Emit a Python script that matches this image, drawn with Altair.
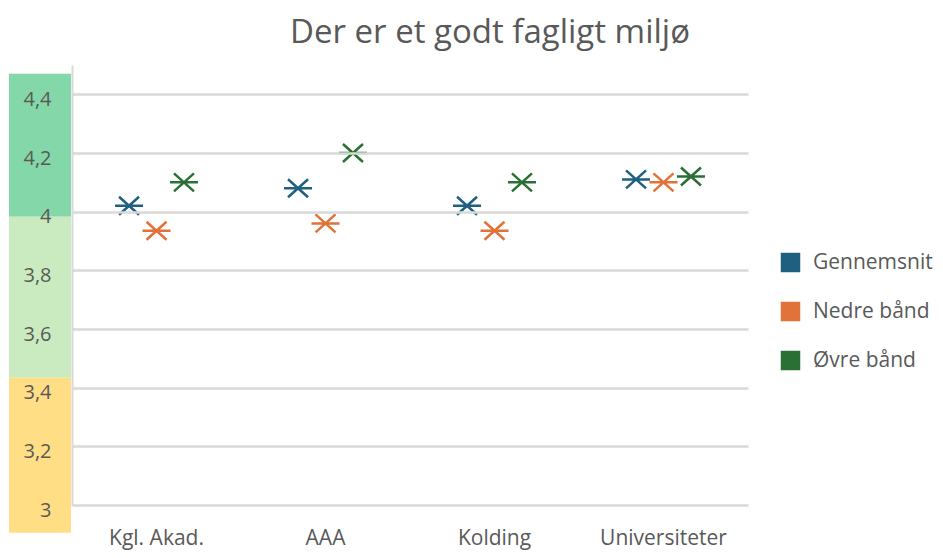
import altair as alt
import pandas as pd

categories = ["Kgl. Akad.", "AAA", "Kolding", "Universiteter"]
series = ["Gennemsnit", "Nedre bånd", "Øvre bånd"]
gennemsnit = [4.02, 4.08, 4.02, 4.11]
nedre = [3.935, 3.96, 3.935, 4.10]
oevre = [4.10, 4.20, 4.10, 4.12]
series_colors = ["#1F5F80", "#E0723A", "#2A7034"]

band_names = ["høj", "mellem", "lav"]
band_top = [4.47, 3.983, 3.434]
band_bottom = [3.983, 3.434, 2.905]
band_colors = ["#84D7A9", "#CAEBBF", "#FFDE86"]

y_ticks = [3.0, 3.2, 3.4, 3.6, 3.8, 4.0, 4.2, 4.4]

rows = []
for s, vals in zip(series, [gennemsnit, nedre, oevre]):
    for c, v in zip(categories, vals):
        rows.append({"kategori": c, "serie": s, "værdi": v})
df = pd.DataFrame(rows)

bands = pd.DataFrame({"band": band_names, "top": band_top, "bund": band_bottom, "farve": band_colors})

FONT = "Open Sans"
GREY = "#595959"

yscale = alt.Scale(domain=[3, 4.5], nice=False, zero=False)

band_layer = alt.Chart(bands).mark_rect(clip=False).encode(
    y=alt.Y("top:Q", scale=yscale),
    y2="bund:Q",
    x=alt.value(-63),
    x2=alt.value(-1),
    fill=alt.Fill("farve:N", scale=None, legend=None),
)

star = "M-1,-0.9L1,0.9M-1,0.9L1,-0.9M-1.4,0L1.4,0"

points = alt.Chart(df).mark_point(
    shape=star, filled=True, size=400, strokeWidth=2.5, opacity=1
).encode(
    x=alt.X("kategori:N", sort=categories,
            scale=alt.Scale(paddingInner=0.485, paddingOuter=0.2425),
            axis=alt.Axis(title=None, labelAngle=0, ticks=False, domain=False,
                          labelPadding=22, labelFontSize=21, labelColor=GREY,
                          labelFont=FONT, grid=False)),
    xOffset=alt.XOffset("serie:N", sort=series,
                        scale=alt.Scale(paddingInner=0, paddingOuter=0.585)),
    y=alt.Y("værdi:Q", scale=yscale,
            axis=alt.Axis(title=None, values=y_ticks, format=".1~f",
                          labelExpr="replace(datum.label, '.', ',')",
                          ticks=False, domain=True, domainColor="#D9D9D9",
                          domainWidth=2, grid=True, gridColor="#D9D9D9",
                          gridWidth=2.3, labelPadding=21, labelFontSize=20,
                          labelColor=GREY, labelFont=FONT, labelOffset=5,
                          zindex=1)),
    color=alt.Color("serie:N", sort=series,
                    scale=alt.Scale(domain=series, range=series_colors),
                    legend=alt.Legend(title=None, orient="none", legendX=708,
                                      legendY=187, symbolType="square",
                                      symbolSize=380, symbolStrokeWidth=0,
                                      labelFontSize=21, labelColor=GREY,
                                      labelFont=FONT, rowPadding=27,
                                      labelOffset=12)),
    stroke=alt.Stroke("serie:N", sort=series,
                      scale=alt.Scale(domain=series, range=series_colors),
                      legend=None),
)

chart = alt.layer(band_layer, points).properties(
    width=676,
    height=440,
    autosize=alt.AutoSizeParams(type="none"),
    padding={"left": 64, "top": 57, "right": 187, "bottom": 45},
    title=alt.Title("Der er et godt fagligt miljø", fontSize=33, color=GREY,
                    font=FONT, fontWeight="normal", anchor="middle",
                    frame="group", dx=80, offset=15),
).configure_view(stroke=None)

chart.save("out.html", embed_options={"renderer": "svg", "actions": False})
